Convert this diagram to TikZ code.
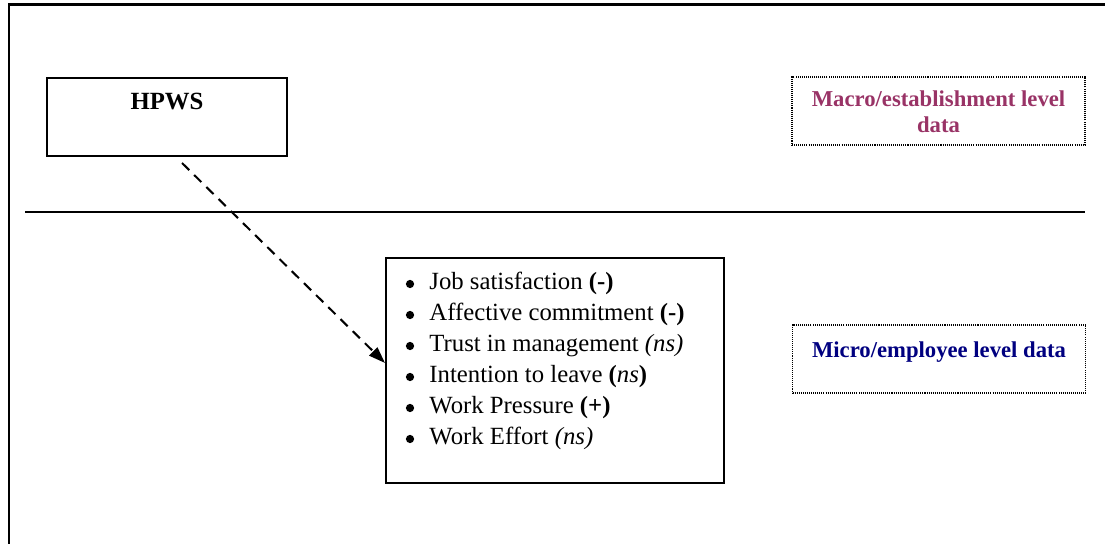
\documentclass[tikz,border=0pt]{standalone}
\usepackage{fontspec}
\setmainfont{Liberation Serif}
\usetikzlibrary{calc,arrows.meta}
\definecolor{macrotext}{HTML}{993366}
\definecolor{microtext}{HTML}{000080}
\begin{document}
\begin{tikzpicture}[x=0.485pt, y=-0.485pt,
  framerule/.style={line width=1.45pt},
  divider/.style={line width=1pt},
  hpwsbox/.style={draw, line width=1pt, minimum width=116.4pt, minimum height=37.8pt, inner sep=0pt},
  effectsbox/.style={draw, line width=1pt, minimum width=163.9pt, minimum height=109.1pt, inner sep=0pt},
  levelbox/.style={draw, line width=0.7pt, dash pattern=on 0.5pt off 0.5pt, minimum width=142.1pt, minimum height=33pt, inner sep=0pt},
  leveltext/.style={font=\fontsize{11}{12.6}\selectfont\bfseries, align=center, inner sep=0pt},
  titletext/.style={font=\fontsize{12}{14}\selectfont\bfseries, anchor=base, inner sep=0pt},
  itemtext/.style={anchor=base west, inner sep=0pt, font=\fontsize{12}{15}\selectfont},
  itemdot/.style={fill=black},
  link/.style={line width=1pt, dash pattern=on 4.9pt off 3.4pt, -{Triangle[length=8pt,width=5.5pt]}}]
\useasboundingbox (0,0) rectangle (1105,544);

% outer frame (top and left sides only)
\coordinate (frameTR) at (1105,5);
\coordinate (frameTL) at (9,5);
\coordinate (frameBL) at (9,544);
\draw[framerule] (frameTR) -- (frameTL) -- (frameBL);

% boundary between the two levels of data
\coordinate (divL) at (25,212);
\coordinate (divR) at (1085,212);
\draw[divider] (divL) -- (divR);

% establishment level
\node[hpwsbox] (hpws) at (167,117) {};
\node[titletext] (hpwslabel) at (167,110) {HPWS};
\node[levelbox] (macro) at (938.5,111) {};
\node[leveltext, text=macrotext] (macrolabel) at (938.5,111.6) {Macro/establishment level\\data};

% employee level: bulleted list of outcomes
\node[effectsbox] (effects) at (555,370.5) {};
\node[itemtext] (item1) at (429,290) {Job satisfaction \textbf{(-)}};
\node[itemtext] (item2) at (429,321) {Affective commitment \textbf{(-)}};
\node[itemtext] (item3) at (429,352) {Trust in management \textit{(ns)}};
\node[itemtext] (item4) at (429,383) {Intention to leave \textbf{(}\textit{ns}\textbf{)}};
\node[itemtext] (item5) at (429,414) {Work Pressure \textbf{(+)}};
\node[itemtext] (item6) at (429,445) {Work Effort \textit{(ns)}};
\foreach \i in {1,...,6}
  \fill[itemdot] ($(item\i.base west)+(-19,-6)$) circle (2pt);

\node[levelbox] (micro) at (939,359) {};
\node[leveltext, text=microtext, anchor=base] (microlabel) at (939,357.7) {Micro/employee level data};

% cross-level link
\coordinate (linkstart) at ($(hpws.south)+(15,6)$);
\draw[link] (linkstart) -- ($(effects.west)+(0,-7.5)$);
\end{tikzpicture}
\end{document}
